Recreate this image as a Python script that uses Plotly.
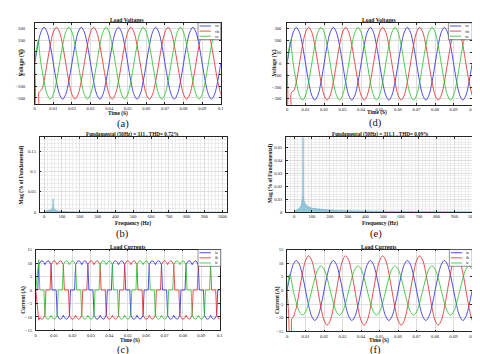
import plotly.graph_objects as go

W, H = 480, 354
FONT = "Liberation Serif"
BLUE, RED, GREEN = "#2222d8", "#e02424", "#22c022"
SPEC_LINE, SPEC_FILL = "#5aa9c6", "rgba(120,186,210,0.8)"

# ---------------- data ----------------
# sample grids (s): 30 deg and 10 deg of a 50 Hz cycle
grid30 = [k / 600 for k in range(61)]
grid10 = [k / 1800 for k in range(181)]

# (a) load voltages, steady samples on grid30
va_a = [0, 156, 269, 311, 269, 156, 0, -156, -269, -311, -269, -156,
        0, 156, 269, 311, 269, 156, 0, -156, -269, -311, -269, -156,
        0, 156, 269, 311, 269, 156, 0, -156, -269, -311, -269, -156,
        0, 156, 269, 311, 269, 156, 0, -156, -269, -311, -269, -156,
        0, 156, 269, 311, 269, 156, 0, -156, -269, -311, -269, -156, 0]
vb_a = [-269, -311, -269, -156, 0, 156, 269, 311, 269, 156, 0, -156,
        -269, -311, -269, -156, 0, 156, 269, 311, 269, 156, 0, -156,
        -269, -311, -269, -156, 0, 156, 269, 311, 269, 156, 0, -156,
        -269, -311, -269, -156, 0, 156, 269, 311, 269, 156, 0, -156,
        -269, -311, -269, -156, 0, 156, 269, 311, 269, 156, 0, -156, -269]
vc_a = [269, 156, 0, -156, -269, -311, -269, -156, 0, 156, 269, 311,
        269, 156, 0, -156, -269, -311, -269, -156, 0, 156, 269, 311,
        269, 156, 0, -156, -269, -311, -269, -156, 0, 156, 269, 311,
        269, 156, 0, -156, -269, -311, -269, -156, 0, 156, 269, 311,
        269, 156, 0, -156, -269, -311, -269, -156, 0, 156, 269, 311, 269]
# start-up transients (replace the first samples)
vb_a_t0 = [0, 0.0004, 0.0008, 0.0019, 0.0022, 0.0027, 0.0033, 0.0040]
vb_a_v0 = [0, -220, -400, -400, -255, -245, -238, -222]
vc_a_t0 = [0, 0.0004, 0.0008, 0.0012, 0.0016, 0.0020, 0.0024]
vc_a_v0 = [0, 55, 105, 140, 180, 205, 130]

# (d) load voltages
va_d = [0, 156, 269, 311, 269, 156, 0, -156, -269, -311, -269, -156,
        0, 156, 269, 311, 269, 156, 0, -156, -269, -311, -269, -156,
        0, 156, 269, 311, 269, 156, 0, -156, -269, -311, -269, -156,
        0, 156, 269, 311, 269, 156, 0, -156, -269, -311, -269, -156,
        0, 156, 269, 311, 269, 156, 0, -156, -269, -311, -269, -156, 0]
vb_d = [-269, -311, -269, -156, 0, 156, 269, 311, 269, 156, 0, -156,
        -269, -311, -269, -156, 0, 156, 269, 311, 269, 156, 0, -156,
        -269, -311, -269, -156, 0, 156, 269, 311, 269, 156, 0, -156,
        -269, -311, -269, -156, 0, 156, 269, 311, 269, 156, 0, -156,
        -269, -311, -269, -156, 0, 156, 269, 311, 269, 156, 0, -156, -269]
vc_d = [269, 156, 0, -156, -269, -311, -269, -156, 0, 156, 269, 311,
        269, 156, 0, -156, -269, -311, -269, -156, 0, 156, 269, 311,
        269, 156, 0, -156, -269, -311, -269, -156, 0, 156, 269, 311,
        269, 156, 0, -156, -269, -311, -269, -156, 0, 156, 269, 311,
        269, 156, 0, -156, -269, -311, -269, -156, 0, 156, 269, 311, 269]
vb_d_t0 = [0, 0.0004, 0.0008, 0.0018, 0.0021, 0.0026, 0.0031, 0.0037, 0.0043]
vb_d_v0 = [0, -240, -400, -400, -260, -240, -235, -230, -205]
vc_d_t0 = [0, 0.0004, 0.0008, 0.0012, 0.0016, 0.0020, 0.0024]
vc_d_v0 = [0, 60, 110, 145, 185, 205, 130]

# (c) load currents, samples on grid10
ia_c = [0, 0, 0, 9.4, 10.2, 10.7, 10.8, 10.7, 10.2, 9.4, 10.2, 10.7, 10.8, 10.7, 10.2, 9.4, 0, 0, 0, 0, 0, -9.4, -10.2, -10.7, -10.8, -10.7, -10.2, -9.4, -10.2, -10.7, -10.8, -10.7, -10.2, -9.4, 0, 0,
        0, 0, 0, 9.4, 10.2, 10.7, 10.8, 10.7, 10.2, 9.4, 10.2, 10.7, 10.8, 10.7, 10.2, 9.4, 0, 0, 0, 0, 0, -9.4, -10.2, -10.7, -10.8, -10.7, -10.2, -9.4, -10.2, -10.7, -10.8, -10.7, -10.2, -9.4, 0, 0,
        0, 0, 0, 9.4, 10.2, 10.7, 10.8, 10.7, 10.2, 9.4, 10.2, 10.7, 10.8, 10.7, 10.2, 9.4, 0, 0, 0, 0, 0, -9.4, -10.2, -10.7, -10.8, -10.7, -10.2, -9.4, -10.2, -10.7, -10.8, -10.7, -10.2, -9.4, 0, 0,
        0, 0, 0, 9.4, 10.2, 10.7, 10.8, 10.7, 10.2, 9.4, 10.2, 10.7, 10.8, 10.7, 10.2, 9.4, 0, 0, 0, 0, 0, -9.4, -10.2, -10.7, -10.8, -10.7, -10.2, -9.4, -10.2, -10.7, -10.8, -10.7, -10.2, -9.4, 0, 0,
        0, 0, 0, 9.4, 10.2, 10.7, 10.8, 10.7, 10.2, 9.4, 10.2, 10.7, 10.8, 10.7, 10.2, 9.4, 0, 0, 0, 0, 0, -9.4, -10.2, -10.7, -10.8, -10.7, -10.2, -9.4, -10.2, -10.7, -10.8, -10.7, -10.2, -9.4, 0, 0,
        0]
ib_c = [0, -4, -8, -11.2, -10.2, -10.7, -10.8, -10.7, -10.2, -9.4, 0, 0, 0, 0, 0, 9.4, 10.2, 10.7, 10.8, 10.7, 10.2, 9.4, 10.2, 10.7, 10.8, 10.7, 10.2, 9.4, 0, 0, 0, 0, 0, -9.4, -10.2, -10.7,
        -10.8, -10.7, -10.2, -9.4, -10.2, -10.7, -10.8, -10.7, -10.2, -9.4, 0, 0, 0, 0, 0, 9.4, 10.2, 10.7, 10.8, 10.7, 10.2, 9.4, 10.2, 10.7, 10.8, 10.7, 10.2, 9.4, 0, 0, 0, 0, 0, -9.4, -10.2, -10.7,
        -10.8, -10.7, -10.2, -9.4, -10.2, -10.7, -10.8, -10.7, -10.2, -9.4, 0, 0, 0, 0, 0, 9.4, 10.2, 10.7, 10.8, 10.7, 10.2, 9.4, 10.2, 10.7, 10.8, 10.7, 10.2, 9.4, 0, 0, 0, 0, 0, -9.4, -10.2, -10.7,
        -10.8, -10.7, -10.2, -9.4, -10.2, -10.7, -10.8, -10.7, -10.2, -9.4, 0, 0, 0, 0, 0, 9.4, 10.2, 10.7, 10.8, 10.7, 10.2, 9.4, 10.2, 10.7, 10.8, 10.7, 10.2, 9.4, 0, 0, 0, 0, 0, -9.4, -10.2, -10.7,
        -10.8, -10.7, -10.2, -9.4, -10.2, -10.7, -10.8, -10.7, -10.2, -9.4, 0, 0, 0, 0, 0, 9.4, 10.2, 10.7, 10.8, 10.7, 10.2, 9.4, 10.2, 10.7, 10.8, 10.7, 10.2, 9.4, 0, 0, 0, 0, 0, -9.4, -10.2, -10.7,
        -10.8]
ic_c = [0, 4, 8, 11.2, 0, 0, 0, 0, 0, -9.4, -10.2, -10.7, -10.8, -10.7, -10.2, -9.4, -10.2, -10.7, -10.8, -10.7, -10.2, -9.4, 0, 0, 0, 0, 0, 9.4, 10.2, 10.7, 10.8, 10.7, 10.2, 9.4, 10.2, 10.7,
        10.8, 10.7, 10.2, 9.4, 0, 0, 0, 0, 0, -9.4, -10.2, -10.7, -10.8, -10.7, -10.2, -9.4, -10.2, -10.7, -10.8, -10.7, -10.2, -9.4, 0, 0, 0, 0, 0, 9.4, 10.2, 10.7, 10.8, 10.7, 10.2, 9.4, 10.2, 10.7,
        10.8, 10.7, 10.2, 9.4, 0, 0, 0, 0, 0, -9.4, -10.2, -10.7, -10.8, -10.7, -10.2, -9.4, -10.2, -10.7, -10.8, -10.7, -10.2, -9.4, 0, 0, 0, 0, 0, 9.4, 10.2, 10.7, 10.8, 10.7, 10.2, 9.4, 10.2, 10.7,
        10.8, 10.7, 10.2, 9.4, 0, 0, 0, 0, 0, -9.4, -10.2, -10.7, -10.8, -10.7, -10.2, -9.4, -10.2, -10.7, -10.8, -10.7, -10.2, -9.4, 0, 0, 0, 0, 0, 9.4, 10.2, 10.7, 10.8, 10.7, 10.2, 9.4, 10.2, 10.7,
        10.8, 10.7, 10.2, 9.4, 0, 0, 0, 0, 0, -9.4, -10.2, -10.7, -10.8, -10.7, -10.2, -9.4, -10.2, -10.7, -10.8, -10.7, -10.2, -9.4, 0, 0, 0, 0, 0, 9.4, 10.2, 10.7, 10.8, 10.7, 10.2, 9.4, 10.2, 10.7,
        10.8]

# (f) load currents, samples on grid30
ia_f = [0, 5.5, 9.5, 11, 9.5, 5.5, 0, -5.5, -9.5, -11, -9.5, -5.5,
        0, 5.5, 9.5, 11, 9.5, 5.5, 0, -5.5, -9.5, -11, -9.5, -5.5,
        0, 5.5, 9.5, 11, 9.5, 5.5, 0, -5.5, -9.5, -11, -9.5, -5.5,
        0, 5.5, 9.5, 11, 9.5, 5.5, 0, -5.5, -9.5, -11, -9.5, -5.5,
        0, 5.5, 9.5, 11, 9.5, 5.5, 0, -5.5, -9.5, -11, -9.5, -5.5, 0]
ib_f = [-11, -12.7, -11, -6.35, 0, 6.35, 11, 12.7, 11, 6.35, 0, -6.35,
        -11, -12.7, -11, -6.35, 0, 6.35, 11, 12.7, 11, 6.35, 0, -6.35,
        -11, -12.7, -11, -6.35, 0, 6.35, 11, 12.7, 11, 6.35, 0, -6.35,
        -11, -12.7, -11, -6.35, 0, 6.35, 11, 12.7, 11, 6.35, 0, -6.35,
        -11, -12.7, -11, -6.35, 0, 6.35, 11, 12.7, 11, 6.35, 0, -6.35, -11]
ic_f = [7.8, 4.5, 0, -4.5, -7.8, -9, -7.8, -4.5, 0, 4.5, 7.8, 9,
        7.8, 4.5, 0, -4.5, -7.8, -9, -7.8, -4.5, 0, 4.5, 7.8, 9,
        7.8, 4.5, 0, -4.5, -7.8, -9, -7.8, -4.5, 0, 4.5, 7.8, 9,
        7.8, 4.5, 0, -4.5, -7.8, -9, -7.8, -4.5, 0, 4.5, 7.8, 9,
        7.8, 4.5, 0, -4.5, -7.8, -9, -7.8, -4.5, 0, 4.5, 7.8, 9, 7.8]
ib_f_t0 = [0, 0.0008, 0.0016, 0.0021, 0.0025, 0.0030, 0.0036, 0.0042]
ib_f_v0 = [0, -8, -16, -16, -10.5, -10, -9.5, -8]
ic_f_t0 = [0, 0.0005, 0.0010, 0.0015, 0.0020]
ic_f_v0 = [0, 3, 5, 6, 5]

# (b) and (e) spectra: frequency (Hz), magnitude (% of fundamental)
b_freq = [0, 5, 10, 20, 30, 40, 45, 48, 49, 50, 51, 52, 55, 60, 70, 80, 90, 100, 150, 200, 300, 500, 1000]
b_mag = [0.001, 0.002, 0.003, 0.004, 0.005, 0.006, 0.008, 0.011, 0.016, 0.033, 0.015, 0.01, 0.008, 0.006,
         0.004, 0.003, 0.002, 0.0015, 0.0008, 0.0006, 0.0004, 0.0003, 0.0002]
e_freq = [0, 5, 10, 20, 30, 40, 45, 48, 49, 50, 51, 52, 55, 60, 70, 80, 90, 100, 150, 200, 300, 500, 1000]
e_mag = [0.0005, 0.001, 0.0015, 0.002, 0.003, 0.005, 0.008, 0.012, 0.018, 0.07, 0.017, 0.012, 0.009, 0.007,
         0.005, 0.004, 0.0035, 0.003, 0.0022, 0.0016, 0.001, 0.0006, 0.0003]

volt_names = ["va", "vb", "vc"]
curr_names = ["ia", "ib", "ic"]
colors = [BLUE, RED, GREEN]
time_ticks = [0, 0.01, 0.02, 0.03, 0.04, 0.05, 0.06, 0.07, 0.08, 0.09, 0.1]
time_ticktext = ["0", "0.01", "0.02", "0.03", "0.04", "0.05", "0.06", "0.07", "0.08", "0.09", "0.1"]
volt_ticks = [-300, -200, -100, 0, 100, 200, 300]
curr_ticks = [-15, -10, -5, 0, 5, 10, 15]
freq_ticks = [0, 100, 200, 300, 400, 500, 600, 700, 800, 900, 1000]
b_yticks = [0, 0.05, 0.1, 0.15]
e_yticks = [0, 0.01, 0.02, 0.03, 0.04, 0.05]

# ---------------- figure ----------------
fig = go.Figure()


def px_x(p):
    return p / W


def px_y(p):
    return 1 - p / H


def add_line(x, y, color, ax, shape="spline"):
    fig.add_trace(go.Scatter(x=x, y=y, mode="lines", line=dict(color=color, width=0.8, shape=shape),
                             xaxis="x" + ax, yaxis="y" + ax, showlegend=False, hoverinfo="skip"))


# (a)
add_line(grid30, va_a, BLUE, "")
add_line(vb_a_t0 + grid30[3:], vb_a_v0 + vb_a[3:], RED, "")
add_line(vc_a_t0 + grid30[2:], vc_a_v0 + vc_a[2:], GREEN, "")
# (d)
add_line(grid30, va_d, BLUE, "2")
add_line(vb_d_t0 + grid30[3:], vb_d_v0 + vb_d[3:], RED, "2")
add_line(vc_d_t0 + grid30[2:], vc_d_v0 + vc_d[2:], GREEN, "2")
# (b) / (e)
for fx, my, ax in [(b_freq, b_mag, "3"), (e_freq, e_mag, "4")]:
    fig.add_trace(go.Scatter(x=fx, y=my, mode="lines", fill="tozeroy", fillcolor=SPEC_FILL,
                             line=dict(color=SPEC_LINE, width=0.5), xaxis="x" + ax, yaxis="y" + ax,
                             showlegend=False, hoverinfo="skip"))
# (c)
add_line(grid10, ia_c, BLUE, "5", "linear")
add_line(grid10, ib_c, RED, "5", "linear")
add_line(grid10, ic_c, GREEN, "5", "linear")
# (f)
add_line(grid30, ia_f, BLUE, "6")
add_line(ib_f_t0 + grid30[3:], ib_f_v0 + ib_f[3:], RED, "6")
add_line(ic_f_t0 + grid30[2:], ic_f_v0 + ic_f[2:], GREEN, "6")

AX = "#262626"
GRID = "#dedede"


def axis(domain_px, rng, tickvals, ticktext=None, horizontal=True, minor=None, standoff=None):
    a, b = domain_px
    if horizontal:
        dom = [px_x(a), px_x(b)]
    else:
        dom = [px_y(b), px_y(a)]
    d = dict(domain=dom, range=rng, tickvals=tickvals, showgrid=True, gridcolor=GRID, gridwidth=0.5,
             showline=True, linecolor=AX, linewidth=0.6, mirror="allticks", ticks="inside", ticklen=2,
             tickwidth=0.5, tickcolor=AX, zeroline=False, fixedrange=True,
             tickfont=dict(family=FONT, size=4.6, color="#222"))
    if ticktext is not None:
        d["ticktext"] = ticktext
    if minor:
        d["minor"] = dict(dtick=minor, showgrid=True, gridcolor="#ececec", gridwidth=0.4, ticks="")
    if standoff is not None:
        d["ticklabelstandoff"] = standoff
    return d


layout = dict(width=W, height=H, margin=dict(l=0, r=0, t=0, b=0), paper_bgcolor="white",
              plot_bgcolor="white", showlegend=False)

# panel boxes (px): x0, x1, y0(top), y1(bottom)
P = {
    "": (26, 214, 13, 95),
    "2": (281, 468, 13, 96),
    "3": (31, 220, 129, 205),
    "4": (280, 470, 129, 205),
    "5": (27, 213, 243, 325),
    "6": (281, 468, 243, 326),
}
cfg = {
    "": dict(xr=[0, 0.1], yr=[-350, 350], xt=time_ticks, xtt=time_ticktext, yt=volt_ticks, minx=None, miny=None, so=8),
    "2": dict(xr=[0, 0.1], yr=[-350, 350], xt=time_ticks, xtt=time_ticktext, yt=volt_ticks, minx=None, miny=None, so=4),
    "3": dict(xr=[-25, 1025], yr=[0, 0.185], xt=freq_ticks, xtt=None, yt=b_yticks, minx=20, miny=0.01, so=2),
    "4": dict(xr=[-45, 1010], yr=[0, 0.058], xt=freq_ticks, xtt=None, yt=e_yticks, minx=20, miny=0.002, so=2),
    "5": dict(xr=[0, 0.1], yr=[-15, 15], xt=time_ticks, xtt=time_ticktext, yt=curr_ticks, minx=None, miny=None, so=2),
    "6": dict(xr=[0, 0.1], yr=[-15, 15], xt=time_ticks, xtt=time_ticktext, yt=curr_ticks, minx=None, miny=None, so=2),
}
for k, (x0, x1, y0, y1) in P.items():
    c = cfg[k]
    layout["xaxis" + k] = axis((x0, x1), c["xr"], c["xt"], c["xtt"], True, c["minx"])
    layout["xaxis" + k]["anchor"] = "y" + k
    layout["yaxis" + k] = axis((y0, y1), c["yr"], c["yt"], None, False, c["miny"], c["so"])
    layout["yaxis" + k]["anchor"] = "x" + k
fig.update_layout(**layout)

ann = []
shapes = []


def text(s, x, y, size, bold=False, angle=0, xanchor="center"):
    ann.append(dict(text=("<b>%s</b>" % s) if bold else s, x=px_x(x), y=px_y(y), xref="paper", yref="paper",
                    showarrow=False, xanchor=xanchor, yanchor="middle", textangle=angle,
                    font=dict(family=FONT, size=size, color="#111")))


# titles
text("Load Voltages", 120, 10, 5.6, True)
text("Load Voltages", 374, 10, 5.6, True)
text("Fundamental (50Hz) = 311 , THD= 0.72%", 125, 126, 5.2, True)
text("Fundamental (50Hz) = 311.1 , THD= 0.09%", 375, 126, 5.2, True)
text("Load Currents", 120, 240, 5.6, True)
text("Load Currents", 374, 240, 5.6, True)
# x labels
text("Time (S)", 110, 105, 5.4, True)
text("Time (S)", 372, 103.5, 5.4, True)
text("Frequency (Hz)", 125, 216.5, 5.4, True)
text("Frequency (Hz)", 375, 216.5, 5.4, True)
text("Time (S)", 122, 335.5, 5.4, True)
text("Time (S)", 374, 335.5, 5.4, True)
# y labels
text("Voltage (V)", 12, 53, 5.6, True, -90)
text("Voltage (V)", 268, 54, 5.6, True, -90)
text("Mag (% of Fundamental)", 13, 167, 5.4, True, -90)
text("Mag (% of Fundamental)", 264, 166, 5.4, True, -90)
text("Current (A)", 15, 294, 5.4, True, -90)
text("Current (A)", 272, 294, 5.4, True, -90)
# sub-figure labels
for s, x, y in [("(a)", 115, 115.5), ("(d)", 370, 115), ("(b)", 115, 227), ("(e)", 371, 227),
                ("(c)", 115, 345), ("(f)", 370, 345)]:
    text(s, x, y, 10.5)

# legends (drawn manually: box, line samples, labels)
for (bx0, bx1, by0, by1), names in [((191, 214, 13, 30), volt_names), ((444, 468, 13, 30), volt_names),
                                    ((191, 214, 243, 260), curr_names), ((445, 468, 243, 260), curr_names)]:
    shapes.append(dict(type="rect", xref="paper", yref="paper", x0=px_x(bx0), x1=px_x(bx1), y0=px_y(by1),
                       y1=px_y(by0), line=dict(color=AX, width=0.5), fillcolor="white", layer="above"))
    for i, (nm, col) in enumerate(zip(names, colors)):
        yy = by0 + 3.2 + i * 5.2
        shapes.append(dict(type="line", xref="paper", yref="paper", x0=px_x(bx0 + 1.5), x1=px_x(bx0 + 13),
                           y0=px_y(yy), y1=px_y(yy), line=dict(color=col, width=0.8), layer="above"))
        text(nm, bx0 + 15, yy, 4, False, 0, "left")

fig.update_layout(annotations=ann, shapes=shapes)
fig.write_html("out.html")
